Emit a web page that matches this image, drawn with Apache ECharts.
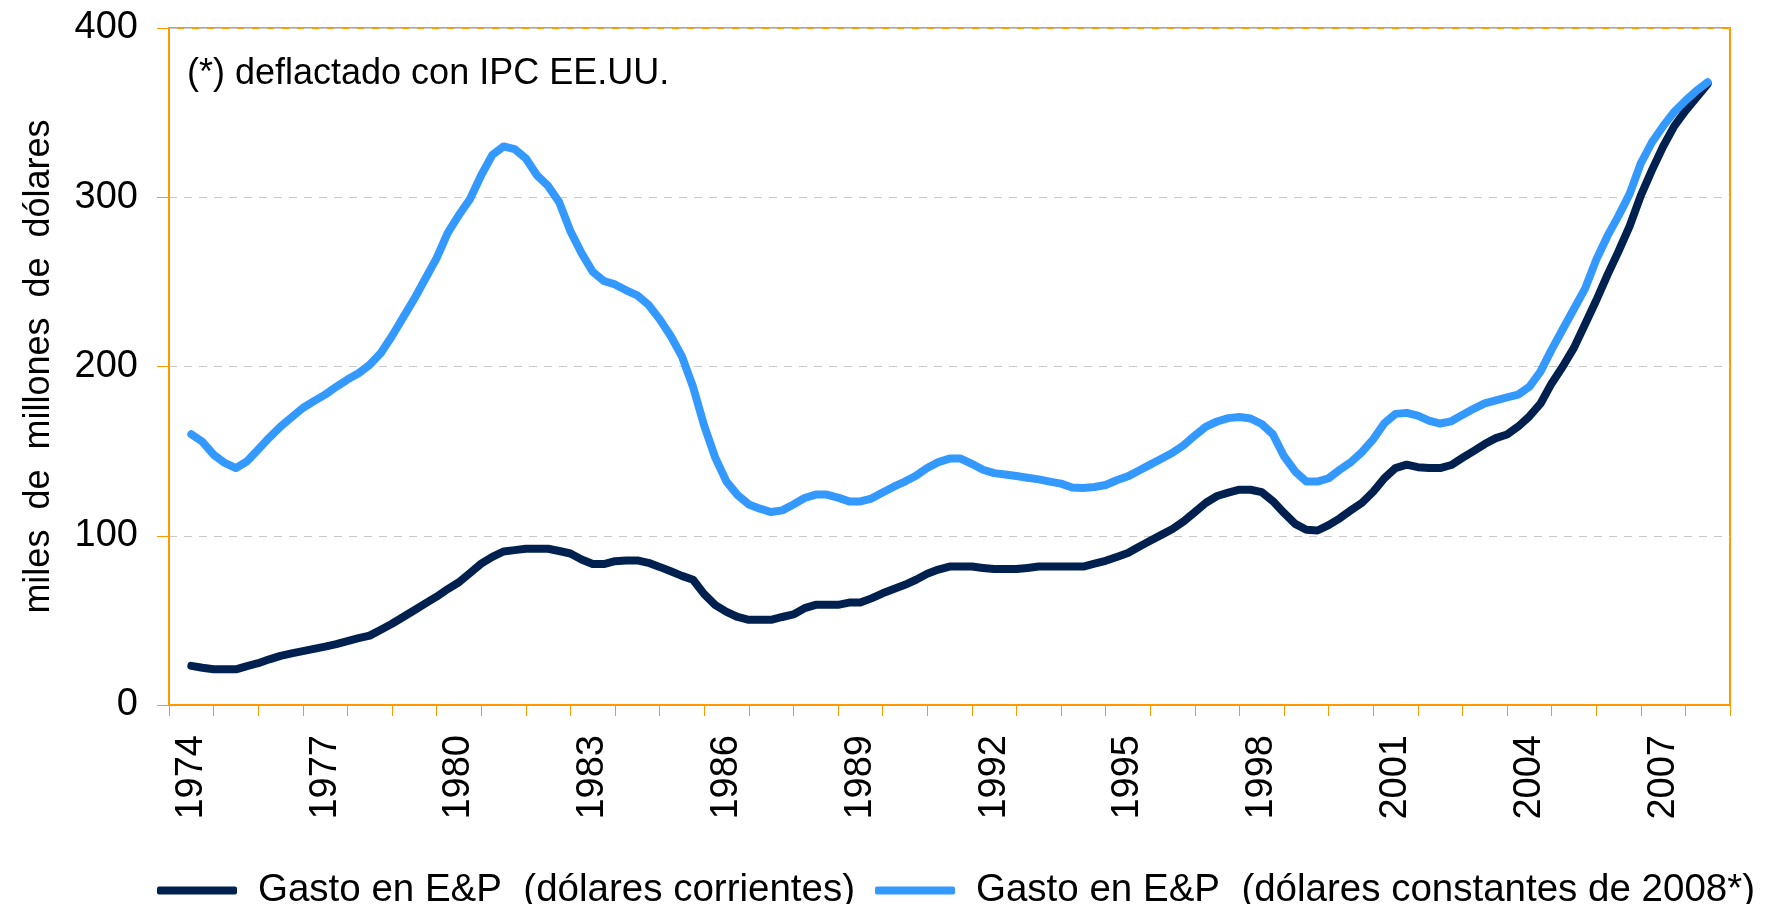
<!DOCTYPE html>
<html>
<head>
<meta charset="utf-8">
<script src="https://cdn.jsdelivr.net/npm/echarts@6/dist/echarts.min.js"></script>
<style>
html,body{margin:0;padding:0;background:#ffffff;}
#chart{width:1769px;height:904px;}
</style>
</head>
<body>
<div id="chart"></div>
<script>
// Year categories shown on the axis
const yearLabels = ['1974','1975','1976','1977','1978','1979','1980','1981','1982','1983','1984','1985','1986','1987','1988','1989','1990','1991','1992','1993','1994','1995','1996','1997','1998','1999','2000','2001','2002','2003','2004','2005','2006','2007','2008'];

// Quarterly observations, first value = 1974 Q1 position, last = 2008
const firstYear = 1974;
const periodsPerYear = 4;

// Gasto en E&P (dólares corrientes), miles de millones
const gastoCorrientes = [
  23.1, 22, 21.1, 21.1,
  21.1, 23, 24.7, 27,
  29, 30.5, 31.8, 33.2,
  34.5, 36, 37.8, 39.5,
  41, 44.5, 48, 52,
  56, 60, 64, 68.5,
  72.5, 78, 83.5, 87.5,
  90.7, 91.5, 92.3, 92.3,
  92.3, 91, 89.5, 86,
  83.3, 83.3, 85, 85.4,
  85.4, 84, 81.6, 79,
  76.3, 74, 65.5, 59,
  55, 52, 50.3, 50.3,
  50.3, 52, 53.5, 57.2,
  59.2, 59.2, 59.2, 60.5,
  60.5, 63, 66, 68.5,
  71, 74, 77.5, 80,
  81.8, 81.8, 81.8, 81,
  80.3, 80.3, 80.3, 81,
  81.8, 81.8, 81.8, 81.8,
  81.8, 83.5, 85.2, 87.5,
  89.8, 93.5, 97, 100.5,
  104, 108.5, 114, 119.5,
  123.5, 125.5, 127.2, 127.2,
  125.8, 120.5, 113.5, 107,
  103.5, 103.1, 106.3, 110.3,
  115, 119.5, 126, 134,
  140, 142, 140.5, 140,
  140, 141.8, 146, 150,
  154.2, 157.7, 159.8, 164.5,
  170.5, 178, 190, 200,
  211, 225, 239, 254,
  268, 283, 301, 316,
  330, 342, 351, 359,
  367
];

// Gasto en E&P (dólares constantes de 2008), miles de millones
const gastoConstantes = [
  160, 155.5, 147.9, 143,
  140, 144, 151, 158,
  164.5, 170, 175.5, 179.5,
  183.4, 188, 192.3, 196,
  201, 208, 218, 229,
  240, 252, 264, 279,
  289.5, 299, 313, 325,
  330, 328.4, 323, 313,
  306.7, 297, 280, 267,
  256, 250.5, 248.5, 245,
  242, 236.5, 228, 218,
  206, 188, 165, 146,
  132, 124, 118.5, 116,
  114, 115, 118.5, 122.3,
  124.3, 124.3, 122.5, 120.3,
  120.3, 122, 125.5, 129,
  132, 135.5, 140, 143.5,
  145.6, 145.6, 142.5, 139,
  137, 136.2, 135.3, 134.3,
  133.3, 132, 130.8, 128.5,
  128.2, 128.8, 130, 132.8,
  135.1, 138.6, 142, 145.5,
  149, 153.5, 159.2, 164.5,
  167.5, 169.5, 170.2, 169.3,
  166, 160, 147, 138,
  132.1, 132, 134, 139,
  143.5, 149.5, 157, 166.5,
  172, 172.6, 171, 168,
  166.3, 167.6, 171.4, 175,
  178.2, 180, 181.7, 183.4,
  188, 197, 210, 222,
  234, 246, 263, 277,
  289, 302, 320, 332.5,
  342, 350.5, 357, 363,
  368
];

const yTicks = [0, 100, 200, 300, 400];

const seriesNames = ['Gasto en E&P  (dólares corrientes)', 'Gasto en E&P  (dólares constantes de 2008*)'];
const noteText = '(*) deflactado con IPC EE.UU.';
const yAxisTitle = 'miles  de  millones  de  dólares';

function toPairs(values) {
  return values.map((v, i) => [firstYear + i / periodsPerYear, v]);
}

const FONT = "'Liberation Sans', Arial, sans-serif";
const ORANGE = '#FF9900';

const chart = echarts.init(document.getElementById('chart'), null, {renderer: 'canvas'});
chart.setOption({
  backgroundColor: '#ffffff',
  animation: false,
  textStyle: {fontFamily: FONT},
  grid: {
    left: 169, right: 39, top: 28, bottom: 199,
    show: true, borderColor: ORANGE, borderWidth: 2, backgroundColor: 'transparent',
    containLabel: false
  },
  graphic: [{
    type: 'text',
    left: 187, top: 56,
    style: {text: noteText, font: '36px ' + FONT, fill: '#000000'}
  }],
  legend: {
    left: 152, top: 866,
    itemWidth: 80, itemHeight: 8, itemGap: 20,
    icon: 'roundRect',
    textStyle: {fontSize: 38.5, color: '#000000', fontFamily: FONT, padding: [0, 0, 0, 16]},
    data: seriesNames
  },
  xAxis: [{
    type: 'value',
    min: firstYear - 0.5,
    max: firstYear + yearLabels.length - 0.5,
    show: false
  }, {
    type: 'category',
    data: yearLabels,
    boundaryGap: true,
    position: 'bottom',
    axisLine: {show: true, lineStyle: {color: ORANGE, width: 2}},
    axisTick: {show: true, interval: 0, length: 11, lineStyle: {color: ORANGE, width: 1}},
    axisLabel: {interval: 2, rotate: 90, margin: 30, fontSize: 38, color: '#000000', fontFamily: FONT},
    splitLine: {show: false}
  }],
  yAxis: {
    type: 'value',
    min: yTicks[0], max: yTicks[yTicks.length - 1], interval: 100,
    name: yAxisTitle,
    nameLocation: 'middle',
    nameRotate: 90,
    nameGap: 112,
    nameTextStyle: {fontSize: 36, color: '#000000', fontFamily: FONT},
    axisLine: {show: true, lineStyle: {color: ORANGE, width: 2}},
    axisTick: {show: true, length: 12, lineStyle: {color: ORANGE, width: 1}},
    axisLabel: {margin: 31, fontSize: 38, color: '#000000', fontFamily: FONT},
    splitLine: {show: true, lineStyle: {color: '#C8C8C8', width: 1, type: [8, 7]}}
  },
  series: [{
    name: seriesNames[0],
    type: 'line',
    xAxisIndex: 0,
    data: toPairs(gastoCorrientes),
    showSymbol: false,
    symbol: 'none',
    color: '#00214F',
    lineStyle: {color: '#00214F', width: 8, cap: 'round', join: 'round'},
    z: 3
  }, {
    name: seriesNames[1],
    type: 'line',
    xAxisIndex: 0,
    data: toPairs(gastoConstantes),
    showSymbol: false,
    symbol: 'none',
    color: '#3399FF',
    lineStyle: {color: '#3399FF', width: 8, cap: 'round', join: 'round'},
    z: 4
  }]
});
</script>
</body>
</html>
